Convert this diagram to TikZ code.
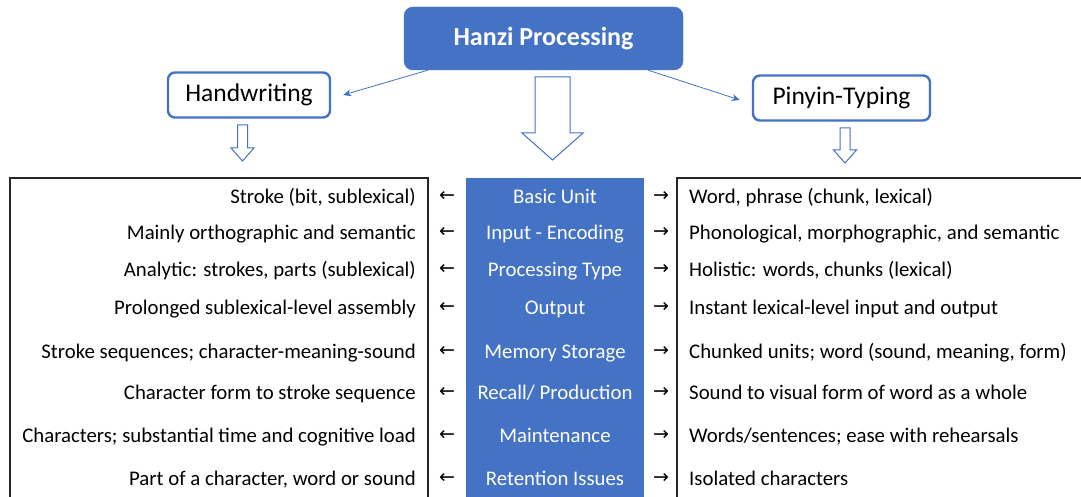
\documentclass[tikz,border=0pt]{standalone}
\usepackage{fontspec}
\setmainfont{Carlito}
\newfontfamily\arrowfont{DejaVu Sans}
\usetikzlibrary{calc,arrows.meta}
\definecolor{oblue}{HTML}{4472C4}
\tikzset{
  headbox/.style={draw=oblue,fill=oblue,rounded corners=9pt,minimum width=279pt,minimum height=63pt,text=white,font=\fontsize{26}{30}\selectfont\bfseries},
  subbox/.style={draw=oblue,line width=2.4pt,fill=white,rounded corners=7pt,minimum height=45pt,font=\fontsize{25.5}{30}\selectfont},
  thinarrow/.style={draw=oblue,line width=0.8pt,-{Stealth[length=8pt,width=7pt]}},
  hollow/.style={draw=oblue,line width=1pt,fill=white},
  lefttxt/.style={anchor=east,inner sep=0pt,font=\fontsize{20.8}{24}\selectfont},
  righttxt/.style={anchor=west,inner sep=0pt,font=\fontsize{20.8}{24}\selectfont},
  midtxt/.style={inner sep=0pt,text=white,font=\fontsize{20.8}{24}\selectfont},
  arr/.style={inner sep=0pt,font=\arrowfont\fontsize{19}{22}\selectfont},
  tableline/.style={draw=black!85,line width=1.2pt}
}
\begin{document}
\begin{tikzpicture}[x=1pt,y=-1pt]
\useasboundingbox (0,0) rectangle (1081,497);
\clip (0,0) rectangle (1081,497);
\fill[white] (0,0) rectangle (1081,497);
% top boxes
\node[headbox] (hanzi) at (543.5,38.5) {Hanzi Processing};
\node[subbox,minimum width=162pt] (hw) at (249,95) {Handwriting};
\node[subbox,minimum width=177pt] (py) at (841.5,98) {Pinyin-Typing};
\draw[thinarrow] ($(hanzi.south west)+(24,0)$) -- ($(hw.east)+(12,0)$);
\draw[thinarrow] ($(hanzi.south east)+(-35,0)$) -- ($(py.west)+(-12,2)$);
% hollow arrows
\draw[hollow] (237.5,125) -- (247.5,125) -- (247.5,148) -- (254,148) -- (242.5,161) -- (231,148) -- (237.5,148) -- cycle;
\draw[hollow] (535,77) -- (570,77) -- (570,133) -- (583,133) -- (552.5,160) -- (522,133) -- (535,133) -- cycle;
\draw[hollow] (840,128) -- (850,128) -- (850,150) -- (856.5,150) -- (845,163) -- (833.5,150) -- (840,150) -- cycle;
% table frames
\draw[tableline] (10,520) -- (10,178) -- (428,178) -- (428,520);
\fill[oblue] (466,178) rectangle (644,520);
\draw[tableline] (1100,178) -- (677,178) -- (677,520);
% rows
\foreach \y/\l/\m/\r [count=\i] in {
 199/{Stroke (bit, sublexical)}/{Basic Unit}/{Word, phrase (chunk, lexical)},
 235/{Mainly orthographic and semantic}/{Input - Encoding}/{Phonological, morphographic, and semantic},
 272/{Analytic: strokes, parts (sublexical)}/{Processing Type}/{Holistic: words, chunks (lexical)},
 310/{Prolonged sublexical-level assembly}/{Output}/{Instant lexical-level input and output},
 354/{Stroke sequences; character-meaning-sound}/{Memory Storage}/{Chunked units; word (sound, meaning, form)},
 395/{Character form to stroke sequence}/{Recall/ Production}/{Sound to visual form of word as a whole},
 438/{Characters; substantial time and cognitive load}/{Maintenance}/{Words/sentences; ease with rehearsals},
 481/{Part of a character, word or sound}/{Retention Issues}/{Isolated characters}
}{
 \node[lefttxt] (l\i) at (416,\y) {\strut\l};
 \node[arr] (la\i) at (447,\y-3) {←};
 \node[midtxt] (m\i) at (555,\y) {\strut\m};
 \node[arr] (ra\i) at (661,\y-3) {→};
 \node[righttxt] (r\i) at (689,\y) {\strut\r};
}
\end{tikzpicture}
\end{document}
